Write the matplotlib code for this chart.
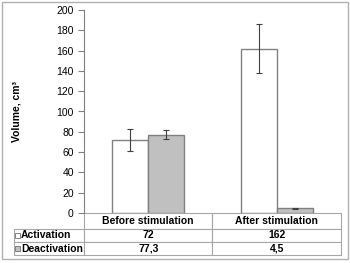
import matplotlib
matplotlib.use('Agg')
import numpy as np
import matplotlib.pyplot as plt
from matplotlib.table import Table
from matplotlib.patches import Rectangle

plt.rcParams['font.family'] = ['Liberation Sans', 'DejaVu Sans']

categories = ['Before stimulation', 'After stimulation']
series = ['Activation', 'Deactivation']
activation = [72, 162]
deactivation = [77.3, 4.5]
activation_err = [11, 24]
deactivation_err = [4, 0.6]
cell_text = [['72', '162'], ['77,3', '4,5']]
yticks = list(range(0, 201, 20))

fill = ['white', '#c0c0c0']
edge = '#808080'
grid = '#a6a6a6'

fig = plt.figure(figsize=(3.5, 2.63), dpi=100)
W, H = 350, 263
# axes in pixel layout: x 84..341, y 10..213
ax = fig.add_axes([84 / W, (H - 213) / H, 257 / W, 203 / H])

x = np.arange(len(categories))
bw = 0.28
ax.bar(x - bw / 2, activation, bw, color=fill[0], edgecolor=edge, linewidth=1)
ax.bar(x + bw / 2, deactivation, bw, color=fill[1], edgecolor=edge, linewidth=1)
ax.errorbar(x - bw / 2, activation, yerr=activation_err, fmt='none',
            ecolor='#404040', elinewidth=0.8, capsize=2, capthick=0.8)
ax.errorbar(x + bw / 2, deactivation, yerr=deactivation_err, fmt='none',
            ecolor='#404040', elinewidth=0.8, capsize=2, capthick=0.8)

ax.set_xlim(-0.5, 1.5)
ax.set_ylim(0, 200)
ax.set_yticks(yticks)
ax.set_xticks([])
for s in ['top', 'right', 'bottom']:
    ax.spines[s].set_visible(False)
ax.spines['left'].set_color(edge)
ax.tick_params(axis='y', length=4.3, width=0.8, color=edge, labelsize=7.5, pad=3)
ax.set_ylabel('Volume, cm\u00b3', fontsize=7.5, fontweight='bold')
ax.yaxis.set_label_coords(-0.245, 0.5)

# data table below the axes (widths/heights in axes units)
aw, ah = 257.0, 203.0
lab_w, col_w = 70 / aw, 0.5
hdr_h, row_h = 16 / ah, 13 / ah
tbl = Table(ax, bbox=[0, -(hdr_h + 2 * row_h), 1, hdr_h + 2 * row_h])
for j, c in enumerate(categories):
    cell = tbl.add_cell(0, j, col_w, hdr_h, text=c, loc='center', edgecolor=grid, facecolor='white')
    cell.get_text().set_fontweight('bold')
for i, name in enumerate(series):
    cell = tbl.add_cell(i + 1, -1, lab_w, row_h, text=name, loc='left', edgecolor=grid, facecolor='white')
    cell.get_text().set_fontweight('bold')
    for j in range(len(categories)):
        cell = tbl.add_cell(i + 1, j, col_w, row_h, text=cell_text[i][j], loc='center',
                            edgecolor=grid, facecolor='white')
        cell.get_text().set_fontweight('bold')
for cell in tbl.get_celld().values():
    cell.set_linewidth(0.8)
tbl.auto_set_font_size(False)
tbl.set_fontsize(7.5)
ax.add_table(tbl)

# legend keys in row labels
for i in range(len(series)):
    yc = 213 + 16 + 13 * i + 6.5
    fig.patches.append(Rectangle((15.5 / W, (H - yc - 2.2) / H), 4.4 / W, 4.4 / H,
                                 transform=fig.transFigure, facecolor=fill[i],
                                 edgecolor=edge, linewidth=0.7))

# chart border
fig.patches.append(Rectangle((1.5 / W, (H - 259) / H), 346 / W, 257.5 / H,
                             transform=fig.transFigure, fill=False,
                             edgecolor='#b0b0b0', linewidth=1))

fig.savefig('out.png', dpi=100)
